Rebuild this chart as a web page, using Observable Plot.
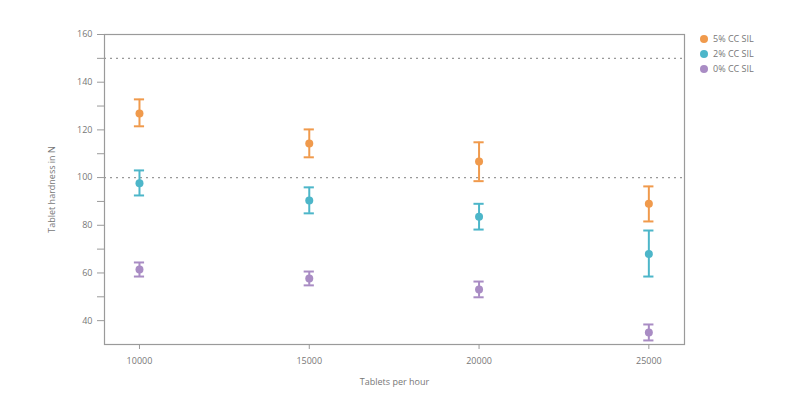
<!DOCTYPE html>
<html>
<head>
<meta charset="utf-8">
<script src="https://cdn.jsdelivr.net/npm/d3@7"></script>
<script src="https://cdn.jsdelivr.net/npm/@observablehq/plot@0.6"></script>
<style>
  html, body { margin: 0; padding: 0; background: #fff; }
  #chart { position: relative; width: 800px; height: 399px; }
  #legend { position: absolute; left: 700px; top: 31px; font-family: "Open Sans", sans-serif; font-size: 9px; color: #777; }
  #legend div { display: flex; align-items: center; height: 15px; }
  #legend span.sw { display: inline-block; width: 8px; height: 8px; border-radius: 50%; margin-right: 5px; }
</style>
</head>
<body>
<div id="chart"><div id="legend"></div></div>
<script>
// Data
const rates = [10000, 15000, 20000, 25000];
const series = ["5% CC SIL", "2% CC SIL", "0% CC SIL"];
const colors = ["#f09a4c", "#4db6c9", "#a98cc4"];
const mean5 = [126.9, 114.3, 106.7, 89.0];
const lo5   = [121.5, 108.5, 98.5, 81.6];
const hi5   = [132.8, 120.2, 114.8, 96.3];
const mean2 = [97.6, 90.4, 83.6, 68.0];
const lo2   = [92.5, 85.0, 78.2, 58.5];
const hi2   = [103.0, 95.9, 89.0, 77.8];
const mean0 = [61.5, 57.7, 53.1, 35.0];
const lo0   = [58.5, 54.8, 49.8, 31.7];
const hi0   = [64.4, 60.6, 56.4, 38.4];
const refLines = [150, 100];
const yMajor = [40, 60, 80, 100, 120, 140, 160];
const yMinor = [50, 70, 90, 110, 130, 150];

const means = [mean5, mean2, mean0], los = [lo5, lo2, lo0], his = [hi5, hi2, hi0];
const data = [];
series.forEach((s, i) => rates.forEach((r, j) => data.push({series: s, x: r, y: means[i][j], lo: los[i][j], hi: his[i][j]})));

const capHalf = 150;
const grey = "#9a9a9a";
const plot = Plot.plot({
  width: 800, height: 399,
  marginLeft: 104, marginRight: 116, marginTop: 34, marginBottom: 55,
  style: {fontFamily: "'Open Sans', sans-serif", fontSize: "9px", color: "#777", background: "#fff"},
  x: {domain: [8970, 26050]},
  y: {domain: [30, 160]},
  color: {domain: series, range: colors},
  marks: [
    Plot.ruleY(refLines, {stroke: "#999", strokeDasharray: "2,4", strokeWidth: 1.2}),
    Plot.frame({stroke: grey, strokeWidth: 1.2}),
    Plot.axisX({ticks: rates, tickFormat: d => String(d), tickSize: 5, stroke: grey, label: "Tablets per hour", labelAnchor: "center", labelArrow: "none", labelOffset: 40, tickPadding: 8, fill: "#777"}),
    Plot.axisY({ticks: yMajor, tickSize: 7, stroke: grey, tickPadding: 5, label: "Tablet hardness in N", labelAnchor: "center", labelArrow: "none", labelOffset: 56, fill: "#777"}),
    Plot.axisY({ticks: yMinor, tickSize: 7, stroke: grey, tickFormat: () => "", label: null}),
    Plot.ruleX(data, {x: "x", y1: "lo", y2: "hi", stroke: "series", strokeWidth: 2}),
    Plot.ruleY(data, {y: "lo", x1: d => d.x - capHalf, x2: d => d.x + capHalf, stroke: "series", strokeWidth: 2}),
    Plot.ruleY(data, {y: "hi", x1: d => d.x - capHalf, x2: d => d.x + capHalf, stroke: "series", strokeWidth: 2}),
    Plot.dot(data, {x: "x", y: "y", fill: "series", r: 4})
  ]
});
document.getElementById("chart").prepend(plot);

const legend = document.getElementById("legend");
series.forEach((s, i) => {
  const row = document.createElement("div");
  row.innerHTML = `<span class="sw" style="background:${colors[i]}"></span>${s}`;
  legend.appendChild(row);
});
</script>
</body>
</html>
